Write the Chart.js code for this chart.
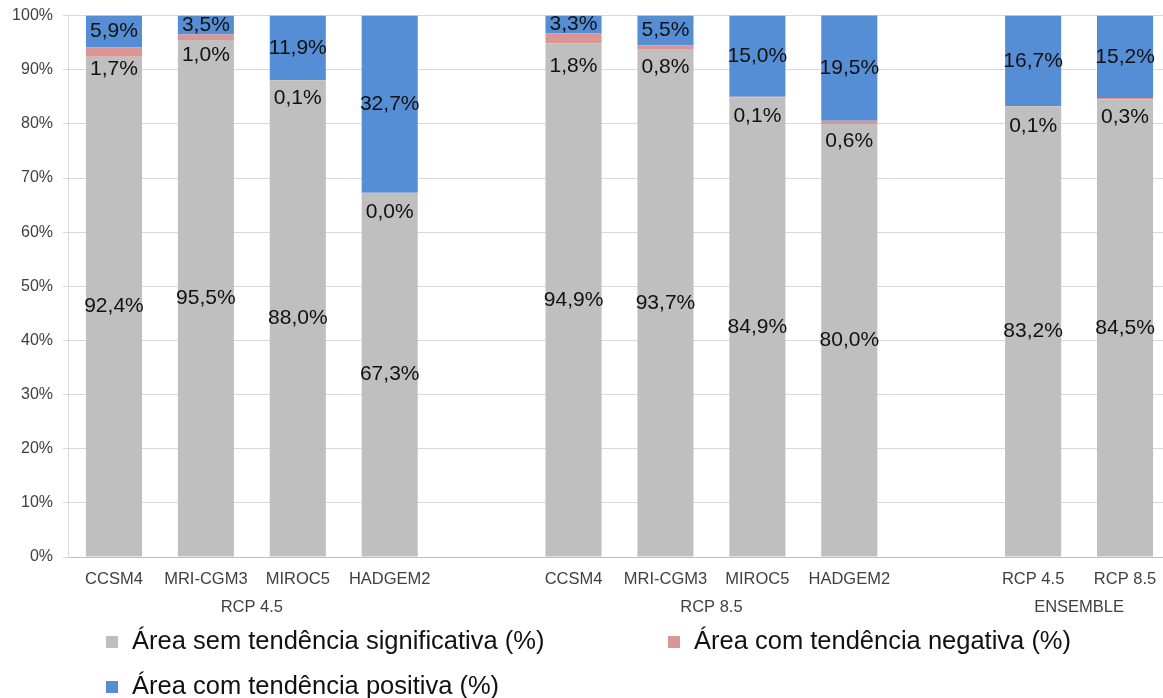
<!DOCTYPE html>
<html>
<head>
<meta charset="utf-8">
<script src="https://cdn.jsdelivr.net/npm/chart.js@4/dist/chart.umd.min.js"></script>
<style>
html, body { margin: 0; padding: 0; background: #fff; overflow: hidden; }
</style>
</head>
<body>
<canvas id="graph-canvas" width="1171" height="698"></canvas>
<script>
// one entry per slot, empty slots keep the groups apart
const models = ['CCSM4', 'MRI-CGM3', 'MIROC5', 'HADGEM2', '', 'CCSM4', 'MRI-CGM3', 'MIROC5', 'HADGEM2', '', 'RCP 4.5', 'RCP 8.5']
const semTendencia = [92.4, 95.5, 88.0, 67.3, null, 94.9, 93.7, 84.9, 80.0, null, 83.2, 84.5]
const tendNegativa = [1.7, 1.0, 0.1, 0.0, null, 1.8, 0.8, 0.1, 0.6, null, 0.1, 0.3]
const tendPositiva = [5.9, 3.5, 11.9, 32.7, null, 3.3, 5.5, 15.0, 19.5, null, 16.7, 15.2]

const groupLabels = ['RCP 4.5', 'RCP 8.5', 'ENSEMBLE']
const groupFirst = [0, 5, 10]
const groupLast = [3, 8, 11]

const seriesNames = ['Área sem tendência significativa (%)', 'Área com tendência negativa (%)', 'Área com tendência positiva (%)']
const seriesColors = ['#bfbfbf', '#d99694', '#558ed5']

// the negative-trend labels sit a little under their thin slice
const negShift = [12, 15, 18, 20, 0, 23, 17, 19, 17, 0, 20, 18]

const FONT = '"Liberation Sans", Arial, sans-serif'
Chart.defaults.font.family = FONT

fmtPct = (v) => v.toFixed(1).replace('.', ',') + '%'

const barLabels = {
    id: 'barLabels',
    afterDatasetsDraw(chart) {
        const ctx = chart.ctx
        ctx.save()
        ctx.font = '21px ' + FONT
        ctx.fillStyle = '#111'
        ctx.textAlign = 'center'
        ctx.textBaseline = 'middle'
        chart.data.datasets.forEach((ds, i) => {
            chart.getDatasetMeta(i).data.forEach((bar, j) => {
                const v = ds.data[j]
                if(v == null) return
                let y = (bar.y + bar.base) / 2
                if(i == 1) y = bar.base + negShift[j]
                ctx.fillText(fmtPct(v), bar.x, y)
            })
        })
        ctx.restore()
    }
}

// second row of category labels: scenario / ensemble names
const groupAxis = {
    id: 'groupAxis',
    afterDraw(chart) {
        const ctx = chart.ctx
        const x = chart.scales.x
        ctx.save()
        ctx.font = '16.5px ' + FONT
        ctx.fillStyle = '#404040'
        ctx.textAlign = 'center'
        ctx.textBaseline = 'middle'
        groupLabels.forEach((g, i) => {
            const cx = (x.getPixelForValue(groupFirst[i]) + x.getPixelForValue(groupLast[i])) / 2
            ctx.fillText(g, cx, 607)
        })
        ctx.restore()
    }
}

// legend in two columns under the axis
const sideLegend = {
    id: 'sideLegend',
    afterDraw(chart) {
        const ctx = chart.ctx
        const spots = [[106, 642], [668, 642], [106, 687]]
        ctx.save()
        ctx.font = '25.5px ' + FONT
        ctx.textBaseline = 'middle'
        ctx.textAlign = 'left'
        chart.data.datasets.forEach((ds, i) => {
            const [lx, ly] = spots[i]
            ctx.fillStyle = ds.backgroundColor
            ctx.fillRect(lx, ly - 6, 12, 12)
            ctx.fillStyle = '#111'
            ctx.fillText(ds.label, lx + 26, ly)
        })
        ctx.restore()
    }
}

const data = {
    labels: models,
    datasets: [
        { label: seriesNames[0], data: semTendencia, backgroundColor: seriesColors[0] },
        { label: seriesNames[1], data: tendNegativa, backgroundColor: seriesColors[1] },
        { label: seriesNames[2], data: tendPositiva, backgroundColor: seriesColors[2] }
    ]
}

const chart = new Chart(document.getElementById('graph-canvas'), {
    type: 'bar',
    data: data,
    plugins: [barLabels, groupAxis, sideLegend],
    options: {
        responsive: false,
        animation: false,
        layout: { padding: { top: 0, left: 0, right: 0, bottom: 0 } },
        datasets: { bar: { categoryPercentage: 1, barPercentage: 0.61 } },
        plugins: { legend: { display: false }, tooltip: { enabled: false } },
        scales: {
            x: {
                stacked: true,
                grid: { display: false },
                border: { color: '#bfbfbf' },
                ticks: { font: { size: 16.5 }, color: '#404040', padding: 5, autoSkip: false, maxRotation: 0 },
                afterFit: (s) => { s.height = 141 }
            },
            y: {
                stacked: true,
                min: 0,
                max: 100,
                grid: { color: '#d9d9d9', tickLength: 5 },
                border: { color: '#d9d9d9' },
                ticks: { stepSize: 10, font: { size: 16, lineHeight: 0.7 }, color: '#404040', padding: 10, callback: (v) => v + '%' },
                afterFit: (s) => { s.width = 68 }
            }
        }
    }
})
</script>
</body>
</html>
